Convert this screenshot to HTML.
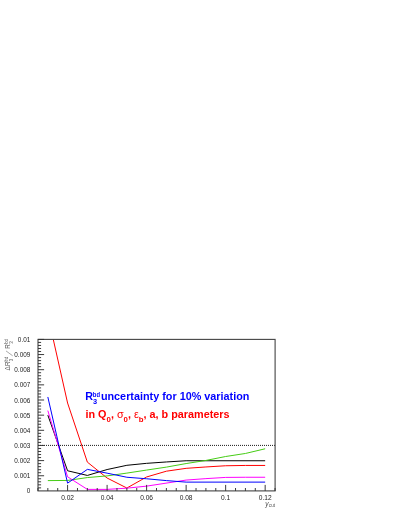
<!DOCTYPE html>
<html><head><meta charset="utf-8"><title>chart</title>
<style>
html,body{margin:0;padding:0;background:#fff;}
body{width:409px;height:529px;overflow:hidden;font-family:"Liberation Sans",sans-serif;}
svg{display:block;will-change:transform;}
text{font-family:"Liberation Sans",sans-serif;}
</style></head><body>
<svg width="409" height="529" viewBox="0 0 409 529">
<rect x="0" y="0" width="409" height="529" fill="#ffffff"/>
<defs><clipPath id="c"><rect x="38.0" y="339.4" width="237.1" height="151.5"/></clipPath></defs>

<g clip-path="url(#c)" fill="none" stroke-width="1" stroke-linejoin="miter">
<polyline points="47.83,415.15 67.59,470.75 87.35,475.45 107.10,469.54 126.86,465.30 146.62,463.33 166.38,461.96 186.14,460.75 265.17,460.75" stroke="#000000"/>
<polyline points="47.83,315.16 67.59,403.03 87.35,462.11 107.10,478.02 126.86,488.02 146.62,476.96 166.38,471.20 186.14,468.33 205.90,466.96 225.65,465.75 245.41,465.45 265.17,465.45" stroke="#ff0000"/>
<polyline points="47.83,480.60 67.59,480.45 87.35,477.57 107.10,475.90 126.86,473.10 146.62,470.07 166.38,467.11 186.14,463.55 205.90,460.45 225.65,456.51 245.41,453.48 265.17,448.78" stroke="#46cc16"/>
<polyline points="47.83,410.60 67.59,476.81 87.35,489.38 107.10,489.38 126.86,488.17 146.62,486.13 186.14,480.07 205.90,478.63 225.65,477.42 245.41,477.26 265.17,477.26" stroke="#ff00ff"/>
<polyline points="47.83,396.97 67.59,483.17 87.35,469.39 107.10,473.17 126.86,477.26 146.62,478.78 166.38,480.60 186.14,482.11 265.17,482.11" stroke="#0000ff"/>
</g>
<line x1="38.0" y1="445.4" x2="275.1" y2="445.4" stroke="#000" stroke-width="0.9" stroke-dasharray="1 1"/>
<rect x="38.0" y="339.4" width="237.1" height="151.5" fill="none" stroke="#444" stroke-width="1.1"/>
<path d="M38.0 487.87h3.1M38.0 484.84h3.1M38.0 481.81h3.1M38.0 478.78h3.1M38.0 475.75h6.1M38.0 472.72h3.1M38.0 469.69h3.1M38.0 466.66h3.1M38.0 463.63h3.1M38.0 460.60h6.1M38.0 457.57h3.1M38.0 454.54h3.1M38.0 451.51h3.1M38.0 448.48h3.1M38.0 445.45h6.1M38.0 442.42h3.1M38.0 439.39h3.1M38.0 436.36h3.1M38.0 433.33h3.1M38.0 430.30h6.1M38.0 427.27h3.1M38.0 424.24h3.1M38.0 421.21h3.1M38.0 418.18h3.1M38.0 415.15h6.1M38.0 412.12h3.1M38.0 409.09h3.1M38.0 406.06h3.1M38.0 403.03h3.1M38.0 400.00h6.1M38.0 396.97h3.1M38.0 393.94h3.1M38.0 390.91h3.1M38.0 387.88h3.1M38.0 384.85h6.1M38.0 381.82h3.1M38.0 378.79h3.1M38.0 375.76h3.1M38.0 372.73h3.1M38.0 369.70h6.1M38.0 366.67h3.1M38.0 363.64h3.1M38.0 360.61h3.1M38.0 357.58h3.1M38.0 354.55h6.1M38.0 351.52h3.1M38.0 348.49h3.1M38.0 345.46h3.1M38.0 342.43h3.1M38.0 339.40h6.1M37.95 490.9v-2.9M47.83 490.9v-2.9M57.71 490.9v-2.9M67.59 490.9v-6.0M77.47 490.9v-2.9M87.35 490.9v-2.9M97.23 490.9v-2.9M107.10 490.9v-6.0M116.98 490.9v-2.9M126.86 490.9v-2.9M136.74 490.9v-2.9M146.62 490.9v-6.0M156.50 490.9v-2.9M166.38 490.9v-2.9M176.26 490.9v-2.9M186.14 490.9v-6.0M196.02 490.9v-2.9M205.90 490.9v-2.9M215.78 490.9v-2.9M225.65 490.9v-6.0M235.53 490.9v-2.9M245.41 490.9v-2.9M255.29 490.9v-2.9M265.17 490.9v-6.0M275.05 490.9v-2.9" stroke="#303030" stroke-width="0.95" fill="none"/>
<g font-size="6.4" fill="#222" text-anchor="end">
<text x="30.3" y="493.4">0</text>
<text x="30.3" y="478.2">0.001</text>
<text x="30.3" y="463.1">0.002</text>
<text x="30.3" y="447.9">0.003</text>
<text x="30.3" y="432.8">0.004</text>
<text x="30.3" y="417.6">0.005</text>
<text x="30.3" y="402.5">0.006</text>
<text x="30.3" y="387.3">0.007</text>
<text x="30.3" y="372.2">0.008</text>
<text x="30.3" y="357.0">0.009</text>
<text x="30.3" y="341.9">0.01</text>
</g>
<g font-size="6.6" fill="#222" text-anchor="middle">
<text x="67.6" y="500.3">0.02</text>
<text x="107.1" y="500.3">0.04</text>
<text x="146.6" y="500.3">0.06</text>
<text x="186.1" y="500.3">0.08</text>
<text x="225.7" y="500.3">0.1</text>
<text x="265.2" y="500.3">0.12</text>
</g>
<text x="265.3" y="505.9" font-size="6.6" fill="#444" font-style="italic">y</text><text x="268.8" y="506.5" font-size="4.8" fill="#555" textLength="6.3" lengthAdjust="spacingAndGlyphs">cut</text>
<g transform="translate(10.4,370.4) rotate(-90)" fill="#505050" stroke="#505050" stroke-width="0" font-size="6.4"><text x="-0.2" y="0">&#916;</text><text x="4.5" y="0">R</text><text x="9.1" y="2.6" font-size="4.5">3</text><text x="9" y="-2.1" font-size="4.7" textLength="4.6" lengthAdjust="spacingAndGlyphs">bd</text><path d="M14.6 2.3L19.5 -4.4" stroke-width="0.5" fill="none"/><text x="21.7" y="0">R</text><text x="26.7" y="2.6" font-size="4.5">3</text><text x="26.6" y="-2.1" font-size="4.7" textLength="4.6" lengthAdjust="spacingAndGlyphs">bd</text></g>
<g font-weight="bold" fill="#0000ff"><text x="85.3" y="400.3" font-size="10.8">R</text><text x="93" y="403.6" font-size="7.4">3</text><text x="92.8" y="397.3" font-size="7.6" textLength="7.2" lengthAdjust="spacingAndGlyphs">bd</text><text x="100.9" y="400.3" font-size="10.8" textLength="148.5" lengthAdjust="spacingAndGlyphs">uncertainty for 10% variation</text></g>
<text x="85.5" y="418.4" font-size="10.8" font-weight="bold" fill="#ff0000" textLength="144.1" lengthAdjust="spacingAndGlyphs">in Q<tspan font-size="7.8" dy="3.5">0</tspan><tspan dy="-3.5">, </tspan><tspan font-weight="normal">&#963;</tspan><tspan font-size="7.8" dy="3.5">0</tspan><tspan dy="-3.5">, </tspan><tspan font-weight="normal">&#949;</tspan><tspan font-size="7.8" dy="3.5">b</tspan><tspan dy="-3.5">, a, b parameters</tspan></text>
</svg></body></html>
